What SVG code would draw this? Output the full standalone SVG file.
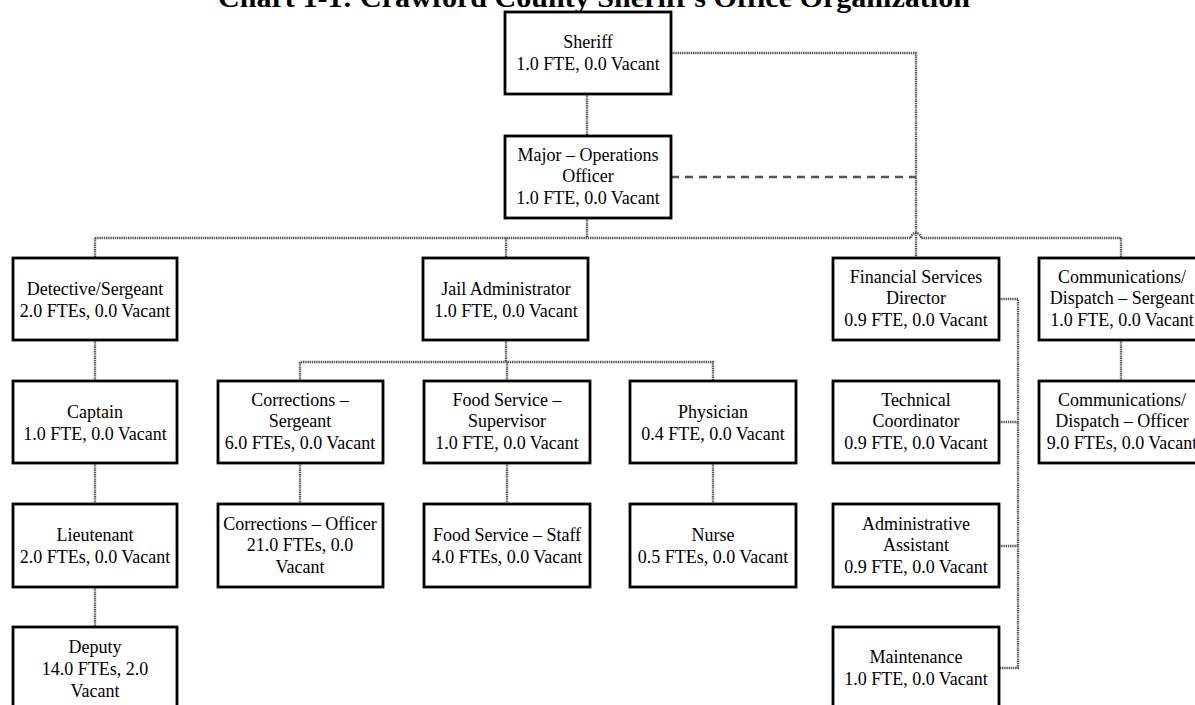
<svg xmlns="http://www.w3.org/2000/svg" width="1195" height="705" viewBox="0 0 1195 705">
<style>
.box{fill:#fff;stroke:#000;stroke-width:2.8}
.t{font-family:"Liberation Serif","Times New Roman",serif;font-size:18px;fill:#000;text-anchor:middle}
.title{font-family:"Liberation Serif","Times New Roman",serif;font-size:28px;font-weight:bold;fill:#000;text-anchor:middle}
.c{fill:none;stroke:#555;stroke-width:2.4;stroke-dasharray:1.4 0.8}
.d{fill:none;stroke:#555;stroke-width:2.4;stroke-dasharray:8 6}
</style>
<rect width="1195" height="705" fill="#fff"/>
<text class="title" x="594" y="7" textLength="752" lengthAdjust="spacingAndGlyphs">Chart 1-1: Crawford County Sheriff's Office Organization</text>
<g id="connectors">
<path class="c" d="M587,94 V136"/>
<path class="c" d="M587,218 V238"/>
<path class="c" d="M95,238 H911 A5,5 0 0 1 921,238 H1121"/>
<path class="c" d="M95,238 V258 M506,238 V258 M1121,238 V258"/>
<path class="c" d="M671,53 H916 V258"/>
<path class="d" d="M671,177 H916"/>
<path class="c" d="M95,340 V381 M95,463 V504 M95,587 V627"/>
<path class="c" d="M506,340 V362 M300,381 V362 H713 V381 M507,362 V381"/>
<path class="c" d="M300,463 V504 M507,463 V504 M713,463 V504"/>
<path class="c" d="M999,299 H1018 V668 H999 M999,422 H1018 M999,546 H1018"/>
<path class="c" d="M1121,340 V381"/>
</g>
<g id="sheriff"><rect class="box" x="505" y="12" width="166" height="82"/><text class="t" x="588" y="48">Sheriff</text><text class="t" x="588" y="70">1.0 FTE, 0.0 Vacant</text></g>
<g id="major"><rect class="box" x="505" y="136" width="166" height="82"/><text class="t" x="588" y="161">Major – Operations</text><text class="t" x="588" y="182">Officer</text><text class="t" x="588" y="204">1.0 FTE, 0.0 Vacant</text></g>
<g id="detective"><rect class="box" x="13" y="258" width="164" height="82"/><text class="t" x="95" y="295">Detective/Sergeant</text><text class="t" x="95" y="317">2.0 FTEs, 0.0 Vacant</text></g>
<g id="jail"><rect class="box" x="423" y="258" width="165" height="82"/><text class="t" x="506" y="295">Jail Administrator</text><text class="t" x="506" y="317">1.0 FTE, 0.0 Vacant</text></g>
<g id="financial"><rect class="box" x="833" y="258" width="166" height="82"/><text class="t" x="916" y="283">Financial Services</text><text class="t" x="916" y="304">Director</text><text class="t" x="916" y="326">0.9 FTE, 0.0 Vacant</text></g>
<g id="commsgt"><rect class="box" x="1039" y="258" width="166" height="82"/><text class="t" x="1122" y="283">Communications/</text><text class="t" x="1122" y="304">Dispatch – Sergeant</text><text class="t" x="1122" y="326">1.0 FTE, 0.0 Vacant</text></g>
<g id="captain"><rect class="box" x="13" y="381" width="164" height="82"/><text class="t" x="95" y="418">Captain</text><text class="t" x="95" y="440">1.0 FTE, 0.0 Vacant</text></g>
<g id="corrsgt"><rect class="box" x="218" y="381" width="165" height="82"/><text class="t" x="300" y="406">Corrections –</text><text class="t" x="300" y="427">Sergeant</text><text class="t" x="300" y="449">6.0 FTEs, 0.0 Vacant</text></g>
<g id="foodsup"><rect class="box" x="424" y="381" width="166" height="82"/><text class="t" x="507" y="406">Food Service –</text><text class="t" x="507" y="427">Supervisor</text><text class="t" x="507" y="449">1.0 FTE, 0.0 Vacant</text></g>
<g id="physician"><rect class="box" x="630" y="381" width="166" height="82"/><text class="t" x="713" y="418">Physician</text><text class="t" x="713" y="440">0.4 FTE, 0.0 Vacant</text></g>
<g id="techcoord"><rect class="box" x="833" y="381" width="166" height="82"/><text class="t" x="916" y="406">Technical</text><text class="t" x="916" y="427">Coordinator</text><text class="t" x="916" y="449">0.9 FTE, 0.0 Vacant</text></g>
<g id="commoff"><rect class="box" x="1039" y="381" width="166" height="82"/><text class="t" x="1122" y="406">Communications/</text><text class="t" x="1122" y="427">Dispatch – Officer</text><text class="t" x="1122" y="449">9.0 FTEs, 0.0 Vacant</text></g>
<g id="lieutenant"><rect class="box" x="13" y="504" width="164" height="83"/><text class="t" x="95" y="541">Lieutenant</text><text class="t" x="95" y="563">2.0 FTEs, 0.0 Vacant</text></g>
<g id="corroff"><rect class="box" x="218" y="504" width="165" height="83"/><text class="t" x="300" y="530">Corrections – Officer</text><text class="t" x="300" y="551">21.0 FTEs, 0.0</text><text class="t" x="300" y="573">Vacant</text></g>
<g id="foodstaff"><rect class="box" x="424" y="504" width="166" height="83"/><text class="t" x="507" y="541">Food Service – Staff</text><text class="t" x="507" y="563">4.0 FTEs, 0.0 Vacant</text></g>
<g id="nurse"><rect class="box" x="630" y="504" width="166" height="83"/><text class="t" x="713" y="541">Nurse</text><text class="t" x="713" y="563">0.5 FTEs, 0.0 Vacant</text></g>
<g id="admin"><rect class="box" x="833" y="504" width="166" height="83"/><text class="t" x="916" y="530">Administrative</text><text class="t" x="916" y="551">Assistant</text><text class="t" x="916" y="573">0.9 FTE, 0.0 Vacant</text></g>
<g id="deputy"><rect class="box" x="13" y="627" width="164" height="83"/><text class="t" x="95" y="653">Deputy</text><text class="t" x="95" y="675">14.0 FTEs, 2.0</text><text class="t" x="95" y="697">Vacant</text></g>
<g id="maintenance"><rect class="box" x="833" y="627" width="166" height="83"/><text class="t" x="916" y="663">Maintenance</text><text class="t" x="916" y="685">1.0 FTE, 0.0 Vacant</text></g>
</svg>
